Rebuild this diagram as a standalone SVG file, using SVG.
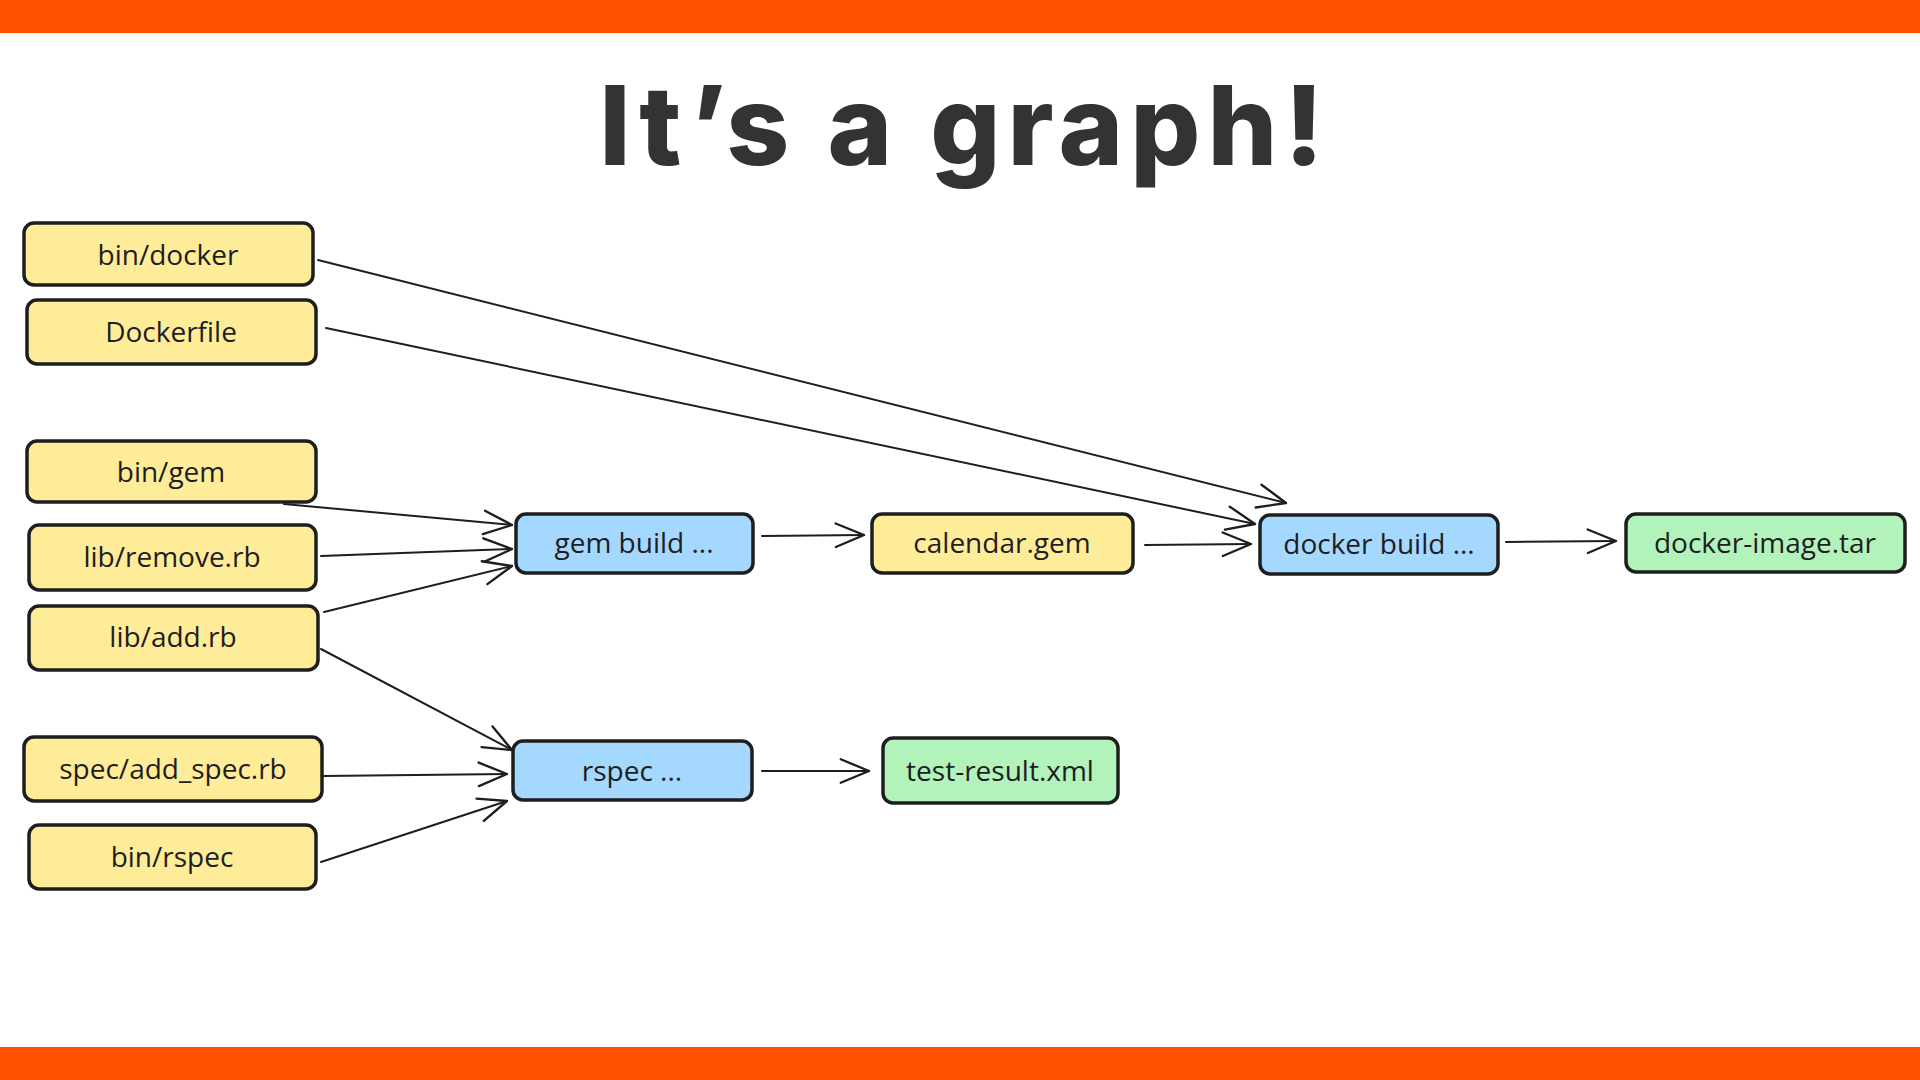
<svg xmlns="http://www.w3.org/2000/svg" width="1920" height="1080" viewBox="0 0 1920 1080">
<defs>
<style>
.bar{fill:#ff5000}
.title{font-family:Inter,"Liberation Sans",sans-serif;font-weight:800;font-size:110px;fill:#333333;letter-spacing:7px}
.box{stroke:#1e1e1e;stroke-width:3.5;stroke-linejoin:round}
.yellow{fill:#ffec99}
.blue{fill:#a5d8ff}
.green{fill:#b2f2bb}
.lbl{font-family:"Open Sans","Noto Sans",sans-serif;font-size:28px;fill:#1e1e1e;text-anchor:middle;dominant-baseline:central}
.edge{fill:none;stroke:#1e1e1e;stroke-width:2;stroke-linecap:round;marker-end:url(#arr)}
</style>
<marker id="arr" markerUnits="userSpaceOnUse" markerWidth="40" markerHeight="40" viewBox="-30 -15 34 30" refX="0" refY="0" orient="auto">
<path d="M-24,-10 L0,0 L-24,10" fill="none" stroke="#1e1e1e" stroke-width="2" stroke-linecap="round" stroke-linejoin="round"/>
</marker>
</defs>
<rect width="1920" height="1080" fill="#ffffff"/>
<rect class="bar" x="0" y="0" width="1920" height="33"/>
<rect class="bar" x="0" y="1047" width="1920" height="33"/>
<text class="title" x="965" y="165" text-anchor="middle">It’s a graph!</text>

<g id="connectors">
<path class="edge" d="M318,260 L1286,503"/>
<path class="edge" d="M326,328 L1255,524"/>
<path class="edge" d="M284,504 L512,525"/>
<path class="edge" d="M321,556 L512,549"/>
<path class="edge" d="M324,612 L512,566"/>
<path class="edge" d="M321,649 L512,750"/>
<path class="edge" d="M324,776 L507,774"/>
<path class="edge" d="M321,862 L507,801"/>
<path class="edge" d="M762,536 L864,535"/>
<path class="edge" d="M1145,545 L1251,544"/>
<path class="edge" d="M1506,542 L1616,541"/>
<path class="edge" d="M762,771 L869,771"/>
</g>

<g id="bin-docker"><rect class="box yellow" x="24" y="223" width="289" height="62" rx="10"/><text class="lbl" x="168" y="254">bin/docker</text></g>
<g id="dockerfile"><rect class="box yellow" x="27" y="300" width="289" height="64" rx="10"/><text class="lbl" x="171" y="331">Dockerfile</text></g>
<g id="bin-gem"><rect class="box yellow" x="27" y="441" width="289" height="61" rx="10"/><text class="lbl" x="171" y="471">bin/gem</text></g>
<g id="lib-remove"><rect class="box yellow" x="29" y="525" width="287" height="65" rx="10"/><text class="lbl" x="172" y="556">lib/remove.rb</text></g>
<g id="lib-add"><rect class="box yellow" x="29" y="606" width="289" height="64" rx="10"/><text class="lbl" x="173" y="636">lib/add.rb</text></g>
<g id="spec-add-spec"><rect class="box yellow" x="24" y="737" width="298" height="64" rx="10"/><text class="lbl" x="173" y="768">spec/add_spec.rb</text></g>
<g id="bin-rspec"><rect class="box yellow" x="29" y="825" width="287" height="64" rx="10"/><text class="lbl" x="172" y="856">bin/rspec</text></g>

<g id="gem-build"><rect class="box blue" x="516" y="514" width="237" height="59" rx="10"/><text class="lbl" x="634" y="542">gem build ...</text></g>
<g id="calendar-gem"><rect class="box yellow" x="872" y="514" width="261" height="59" rx="10"/><text class="lbl" x="1002" y="542">calendar.gem</text></g>
<g id="docker-build"><rect class="box blue" x="1260" y="515" width="238" height="59" rx="10"/><text class="lbl" x="1379" y="543">docker build ...</text></g>
<g id="docker-image-tar"><rect class="box green" x="1626" y="514" width="279" height="58" rx="10"/><text class="lbl" x="1765" y="542">docker-image.tar</text></g>
<g id="rspec"><rect class="box blue" x="513" y="741" width="239" height="59" rx="10"/><text class="lbl" x="632" y="770">rspec ...</text></g>
<g id="test-result"><rect class="box green" x="883" y="738" width="235" height="65" rx="10"/><text class="lbl" x="1000" y="770">test-result.xml</text></g>
</svg>
